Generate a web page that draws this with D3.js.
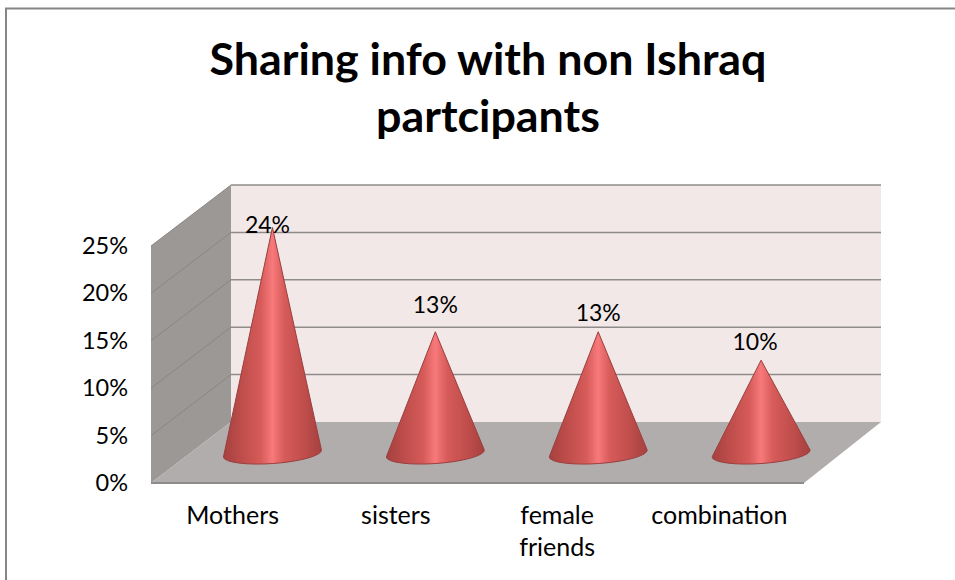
<!DOCTYPE html>
<html>
<head>
    <meta charset="utf-8">
    <title>Sharing info with non Ishraq partcipants</title>
    <script src="https://d3js.org/d3.v7.min.js"></script>
    <style>
        html, body { margin: 0; padding: 0; background: #fff; }
        svg { display: block; }
        text { font-family: Lato, sans-serif; fill: #000; }
    </style>
</head>
<body>
    <svg id="graph" width="955" height="580"></svg>
    <script>
        // values
        const categories = ["Mothers", "sisters", "female friends", "combination"];
        const values = [24, 13, 13, 10];
        const dataLabels = ["24%", "13%", "13%", "10%"];
        const yTicks = [0, 5, 10, 15, 20, 25];
        const titleLines = ["Sharing info with non Ishraq", "partcipants"];

        let svg = d3.select("svg#graph");

        // the 3d box: back wall is shifted from the front edge
        const front = { left: 151, right: 804, bottom: 483, top: 246 };
        const back = { left: 231, right: 881, bottom: 422, top: 185 };
        const coneBaseY = 455;
        const coneRx = 49;
        const coneRy = 10;

        // hand placed labels
        const labelDx = [-5, 0, 0, -6];
        const labelDy = [-2, -27, -19, -18];
        const catDx = [0, 0, -2, -3];

        const yFront = d3.scaleLinear().domain([0, 25]).range([front.bottom, front.top]);
        const yBack = d3.scaleLinear().domain([0, 25]).range([back.bottom, back.top]);
        const yCone = d3.scaleLinear().domain([0, 25]).range([coneBaseY, coneBaseY - (front.bottom - front.top)]);

        const xFront = d3.scaleBand().domain(categories).range([front.left, front.right]);
        const xCone = d3.scaleBand().domain(categories)
            .range([(front.left + back.left) / 2, (front.right + back.right) / 2]);

        // frame around the chart
        svg.append("path")
            .attr("d", "M6,580 V8.5 H955")
            .attr("fill", "none")
            .attr("stroke", "#868686")
            .attr("stroke-width", 2);

        // title
        svg.selectAll("text.title").data(titleLines).join("text")
            .attr("class", "title")
            .attr("x", 488)
            .attr("y", (d, i) => 75 + i * 57)
            .attr("text-anchor", "middle")
            .style("font-size", "44.8px")
            .style("font-weight", "700")
            .text(d => d);

        // walls and floor
        svg.append("rect")
            .attr("x", back.left)
            .attr("y", yBack(25))
            .attr("width", back.right - back.left)
            .attr("height", yBack(0) - yBack(25))
            .attr("fill", "#f3e8e8");

        svg.append("polygon")
            .attr("points", [
                [front.left, yFront(25)],
                [back.left, yBack(25)],
                [back.left, yBack(0)],
                [front.left, yFront(0)]
            ].join(" "))
            .attr("fill", "#9c9896");

        svg.append("polygon")
            .attr("points", [
                [front.left, yFront(0)],
                [back.left, yBack(0)],
                [back.right, yBack(0)],
                [front.right, yFront(0)]
            ].join(" "))
            .attr("fill", "#b1adad");

        // gridlines on back wall and left wall
        const gridTicks = yTicks.filter(d => d > 0);
        svg.selectAll("line.grid").data(gridTicks).join("line")
            .attr("class", "grid")
            .attr("x1", back.left)
            .attr("x2", back.right)
            .attr("y1", d => yBack(d))
            .attr("y2", d => yBack(d))
            .attr("stroke", "#8f8b89")
            .attr("stroke-width", 1.5);

        svg.selectAll("line.gridSide").data(gridTicks).join("line")
            .attr("class", "gridSide")
            .attr("x1", front.left)
            .attr("x2", back.left)
            .attr("y1", d => yFront(d))
            .attr("y2", d => yBack(d))
            .attr("stroke", "#8a8684")
            .attr("stroke-width", 1);

        // front edge of the floor
        svg.append("line")
            .attr("x1", front.left)
            .attr("x2", front.right)
            .attr("y1", yFront(0))
            .attr("y2", yFront(0))
            .attr("stroke", "#8f8b8b")
            .attr("stroke-width", 2);

        // cone shading
        let grad = svg.append("defs").append("linearGradient").attr("id", "coneFill");
        grad.selectAll("stop").data([
            ["0%", "#a5413f"], ["20%", "#c04e4c"], ["38%", "#d65b59"],
            ["50%", "#f8797b"], ["62%", "#d65b59"], ["82%", "#c04e4c"], ["100%", "#a5413f"]
        ]).join("stop")
            .attr("offset", d => d[0])
            .attr("stop-color", d => d[1]);

        // base ellipse is a little tilted in the original, right side higher
        svg.selectAll("path.cone").data(categories).join("path")
            .attr("class", "cone")
            .attr("fill", "url(#coneFill)")
            .attr("stroke", "#9a3f3e")
            .attr("stroke-width", 1)
            .attr("d", (d, i) => {
                const cx = xCone(d) + xCone.bandwidth() / 2;
                return `M${cx},${yCone(values[i])} L${cx + coneRx},${coneBaseY - 5}`
                    + ` A${coneRx},${coneRy} -4 0 1 ${cx - coneRx},${coneBaseY + 2} Z`;
            });

        // data labels
        svg.selectAll("text.value").data(dataLabels).join("text")
            .attr("class", "value")
            .attr("x", (d, i) => xCone(categories[i]) + xCone.bandwidth() / 2 + labelDx[i])
            .attr("y", (d, i) => yCone(values[i]) + labelDy[i] + 8)
            .attr("text-anchor", "middle")
            .style("font-size", "23px")
            .text(d => d);

        // y axis labels
        let leftAxis = d3.axisLeft(yFront)
            .tickValues(yTicks)
            .tickSize(0)
            .tickPadding(0)
            .tickFormat(d => d + "%");
        let yAxis = svg.append("g")
            .attr("class", "y axis")
            .attr("transform", "translate(128,0)")
            .call(leftAxis);
        yAxis.select(".domain").remove();
        yAxis.selectAll("text").style("font-size", "23.5px");

        // category labels, female friends wraps on two lines
        svg.selectAll("text.cat").data(categories).join("text")
            .attr("class", "cat")
            .attr("y", 524)
            .attr("text-anchor", "middle")
            .style("font-size", "25px")
            .each(function (d, i) {
                const words = d === "female friends" ? d.split(" ") : [d];
                const cx = xFront(d) + xFront.bandwidth() / 2 + catDx[i];
                d3.select(this).selectAll("tspan").data(words).join("tspan")
                    .attr("x", cx)
                    .attr("dy", (w, j) => j === 0 ? 0 : 32)
                    .text(w => w);
            });
    </script>
</body>
</html>
